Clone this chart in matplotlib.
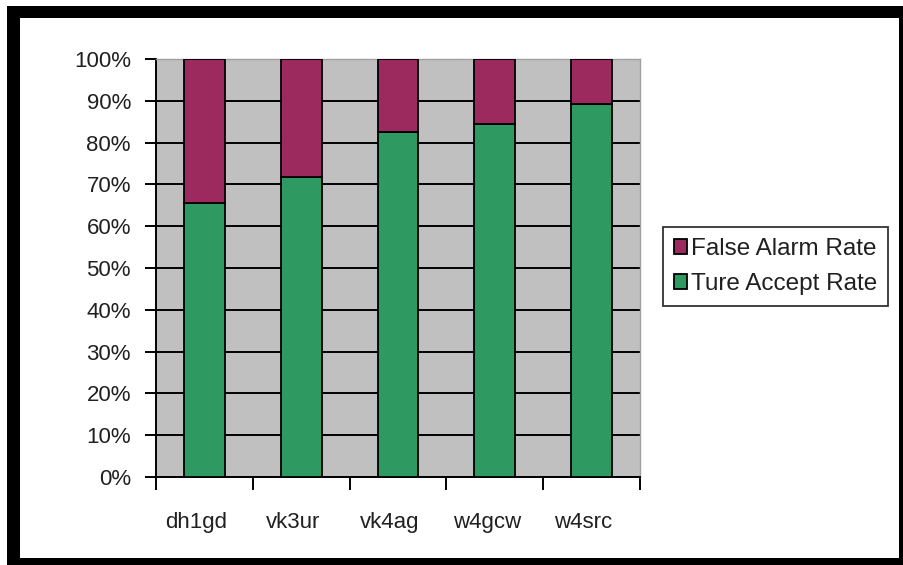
import matplotlib
matplotlib.use("Agg")
import matplotlib.pyplot as plt
import matplotlib.transforms as mtransforms
from matplotlib.patches import Rectangle
import numpy as np

plt.rcParams['font.family'] = ['Liberation Sans', 'DejaVu Sans']

categories = ["dh1gd", "vk3ur", "vk4ag", "w4gcw", "w4src"]
true_accept = [65.6, 71.8, 82.5, 84.4, 89.2]
false_alarm = [100 - v for v in true_accept]
y_ticks = [0, 10, 20, 30, 40, 50, 60, 70, 80, 90, 100]
y_tick_labels = [f"{t}%" for t in y_ticks]

GREEN = "#2E9A62"
PURPLE = "#9C2A5F"
PLOT_BG = "#C0C0C0"

W, H = 904, 565
fig = plt.figure(figsize=(W / 100, H / 100), dpi=100)
fig.patch.set_facecolor("white")

# black frame around the chart
def band(x0, y0, x1, y1):
    fig.add_artist(Rectangle((x0 / W, 1 - y1 / H), (x1 - x0) / W, (y1 - y0) / H,
                             transform=fig.transFigure, facecolor="black",
                             edgecolor="none", zorder=10))

band(7, 6, 904, 18)
band(7, 6, 20, 565)
band(899, 6, 904, 565)
band(7, 558, 904, 565)

ax = fig.add_axes([156 / W, 1 - 477 / H, (640 - 156) / W, (477 - 59) / H])
ax.set_facecolor(PLOT_BG)

x = np.arange(len(categories))
width = 0.42
ax.bar(x, true_accept, width, color=GREEN, edgecolor="black", linewidth=1.3,
       label="Ture Accept Rate", zorder=3)
ax.bar(x, false_alarm, width, bottom=true_accept, color=PURPLE, edgecolor="black",
       linewidth=1.3, label="False Alarm Rate", zorder=3)

ax.set_xlim(-0.5, len(categories) - 0.5)
ax.set_ylim(0, 100)
ax.set_yticks(y_ticks)
ax.set_yticklabels(y_tick_labels)
ax.yaxis.grid(True, color="black", linewidth=1.4, zorder=1)
ax.set_axisbelow(True)

ax.set_xticks(x)
ax.set_xticklabels(categories)
ax.set_xticks(np.arange(len(categories) + 1) - 0.5, minor=True)
ax.tick_params(axis="x", which="major", length=0, pad=25, labelsize=16,
               colors="#202020")
ax.tick_params(axis="x", which="minor", length=9, width=1.4, direction="out")
ax.tick_params(axis="y", length=8, width=1.4, direction="out", pad=10,
               labelsize=16, colors="black")
for lbl in ax.get_yticklabels():
    lbl.set_color("#202020")

# category labels sit slightly left of the bar centres
shift = mtransforms.ScaledTranslation(-8 / 100, 0, fig.dpi_scale_trans)
for lbl in ax.get_xticklabels():
    lbl.set_transform(lbl.get_transform() + shift)

for side in ["top", "right"]:
    ax.spines[side].set_color("#A0A0A0")
    ax.spines[side].set_linewidth(1.0)
for side in ["left", "bottom"]:
    ax.spines[side].set_color("black")
    ax.spines[side].set_linewidth(1.4)

handles, labels = ax.get_legend_handles_labels()
leg = fig.legend(handles[::-1], labels[::-1], loc="upper left",
                 bbox_to_anchor=(663 / W, 1 - 227 / H), fontsize=17.5,
                 frameon=True, fancybox=False, handlelength=0.55,
                 handleheight=0.55, handletextpad=0.15, borderpad=0.45,
                 labelspacing=0.55, borderaxespad=0)
leg.get_frame().set_edgecolor("black")
leg.get_frame().set_linewidth(1.3)
for t in leg.get_texts():
    t.set_color("#202020")

fig.savefig("out.png", dpi=100, facecolor="white")
